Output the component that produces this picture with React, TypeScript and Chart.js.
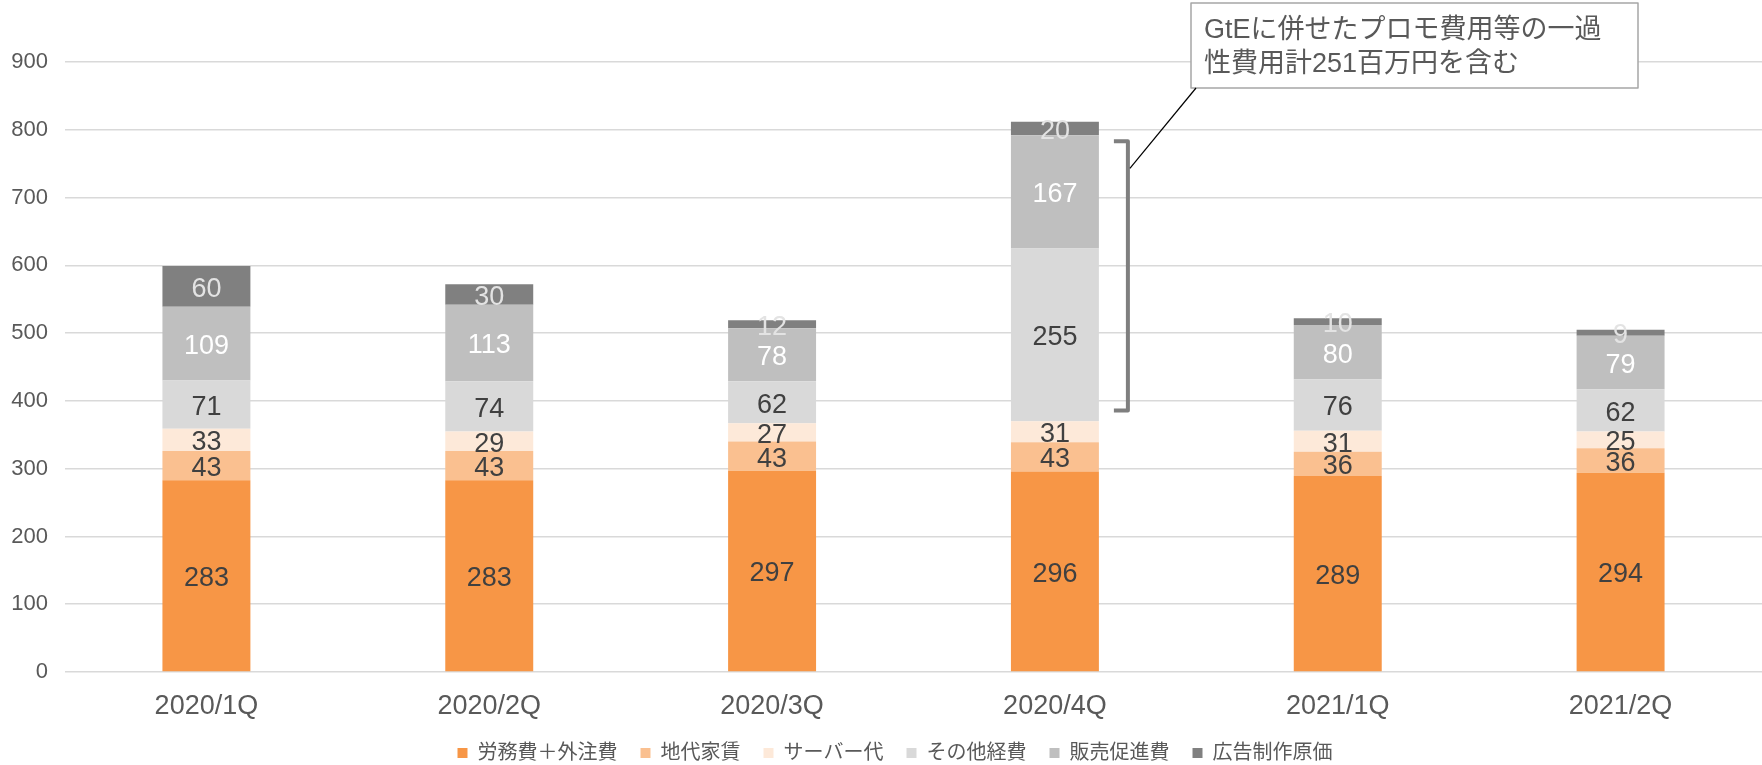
import React, { useEffect, useRef } from "react";
import { Chart, registerables } from "chart.js";

Chart.register(...registerables);

const categories = ["2020/1Q", "2020/2Q", "2020/3Q", "2020/4Q", "2021/1Q", "2021/2Q"];
const seriesNames = ["労務費＋外注費", "地代家賃", "サーバー代", "その他経費", "販売促進費", "広告制作原価"];
const laborOutsourcing = [283, 283, 297, 296, 289, 294];
const rent = [43, 43, 43, 43, 36, 36];
const serverCost = [33, 29, 27, 31, 31, 25];
const otherExpenses = [71, 74, 62, 255, 76, 62];
const salesPromotion = [109, 113, 78, 167, 80, 79];
const adProduction = [60, 30, 12, 20, 10, 9];
const yTickMax = 900;
const yTickStep = 100;
const annotationLines = ["GtEに併せたプロモ費用等の一過", "性費用計251百万円を含む"];
const bracketCategoryIndex = 3;
const bracketRange = [386, 783];
const connectorValue = 743;

const seriesColors = ["#F79646", "#FAC090", "#FDE9D9", "#D9D9D9", "#BFBFBF", "#808080"];
const labelColors = ["#404040", "#404040", "#404040", "#404040", "#FFFFFF", "#E3E3E3"];
const FONT = "'Liberation Sans', Arial, 'Noto Sans CJK JP', sans-serif";

const valueLabelPlugin = {
  id: "valueLabels",
  afterDatasetsDraw(chart: any) {
    const ctx = chart.ctx;
    ctx.save();
    ctx.font = `27px ${FONT}`;
    ctx.textAlign = "center";
    ctx.textBaseline = "middle";
    chart.data.datasets.forEach((ds: any, di: number) => {
      const meta = chart.getDatasetMeta(di);
      meta.data.forEach((el: any, i: number) => {
        const v = ds.data[i];
        const y = (el.y + el.base) / 2;
        ctx.fillStyle = labelColors[di];
        ctx.fillText(String(v), el.x, y + 3);
      });
    });
    ctx.restore();
  },
};

const legendShiftPlugin = {
  id: "legendShift",
  afterLayout(chart: any) {
    if (chart.legend) {
      chart.legend.left += 14;
      chart.legend.right += 14;
    }
  },
};

const annotationPlugin = {
  id: "annotationBox",
  afterDraw(chart: any) {
    const ctx = chart.ctx;
    const yScale = chart.scales.y;
    const meta = chart.getDatasetMeta(0);
    const bar = meta.data[bracketCategoryIndex];
    const barRight = bar.x + bar.width / 2;
    const bx = barRight + 29;
    const yTop = yScale.getPixelForValue(bracketRange[1]);
    const yBot = yScale.getPixelForValue(bracketRange[0]);
    ctx.save();
    // bracket
    ctx.strokeStyle = "#7F7F7F";
    ctx.lineWidth = 4;
    ctx.lineJoin = "round";
    ctx.beginPath();
    ctx.moveTo(bx - 14, yTop);
    ctx.lineTo(bx, yTop);
    ctx.lineTo(bx, yBot);
    ctx.lineTo(bx - 14, yBot);
    ctx.stroke();
    // box
    const boxL = 1191, boxT = 3, boxR = 1638, boxB = 88;
    ctx.fillStyle = "#FFFFFF";
    ctx.fillRect(boxL, boxT, boxR - boxL, boxB - boxT);
    ctx.strokeStyle = "#A6A6A6";
    ctx.lineWidth = 1.5;
    ctx.strokeRect(boxL, boxT, boxR - boxL, boxB - boxT);
    // connector
    ctx.strokeStyle = "#000000";
    ctx.lineWidth = 1.2;
    ctx.beginPath();
    ctx.moveTo(bx + 2, yScale.getPixelForValue(connectorValue));
    ctx.lineTo(boxL + 5, boxB);
    ctx.stroke();
    // text
    ctx.fillStyle = "#595959";
    ctx.font = `27px ${FONT}`;
    ctx.textAlign = "left";
    ctx.textBaseline = "middle";
    ctx.fillText(annotationLines[0], boxL + 13, 31);
    ctx.fillText(annotationLines[1], boxL + 13, 65);
    ctx.restore();
  },
};

export default function App() {
  const canvasRef = useRef<HTMLCanvasElement | null>(null);

  useEffect(() => {
    if (!canvasRef.current) return;
    const seriesValues = [laborOutsourcing, rent, serverCost, otherExpenses, salesPromotion, adProduction];
    const chart = new Chart(canvasRef.current, {
      type: "bar",
      data: {
        labels: categories,
        datasets: seriesNames.map((name, i) => ({
          label: name,
          data: seriesValues[i],
          backgroundColor: seriesColors[i],
          borderWidth: 0,
          categoryPercentage: 1,
          barPercentage: 0.311,
        })),
      },
      options: {
        animation: false,
        responsive: false,
        layout: { padding: { top: 62, right: 0, left: 0, bottom: 0 } },
        plugins: {
          tooltip: { enabled: false },
          legend: {
            position: "bottom",
            maxHeight: 45,
            labels: {
              boxWidth: 10,
              boxHeight: 10,
              padding: 23,
              color: "#595959",
              font: { size: 20, family: FONT },
            },
          },
        },
        scales: {
          x: {
            stacked: true,
            grid: { display: false, drawTicks: false },
            border: { display: false },
            ticks: { color: "#595959", font: { size: 27, family: FONT }, padding: 18 },
            afterFit: (axis: any) => {
              axis.height = 48;
            },
          },
          y: {
            stacked: true,
            min: 0,
            max: yTickMax,
            grid: { color: "#D9D9D9", lineWidth: 1.5, drawTicks: false },
            border: { display: false },
            ticks: { stepSize: yTickStep, color: "#595959", font: { size: 22, family: FONT }, padding: 17 },
            afterFit: (axis: any) => {
              axis.width = 65;
            },
          },
        },
      },
      plugins: [valueLabelPlugin, annotationPlugin, legendShiftPlugin],
    });
    return () => chart.destroy();
  }, []);

  return (
    <div style={{ position: "absolute", left: 0, top: 0, width: 1762, height: 765, background: "#FFFFFF" }}>
      <canvas ref={canvasRef} width={1762} height={765} style={{ display: "block", width: 1762, height: 765 }} />
    </div>
  );
}
